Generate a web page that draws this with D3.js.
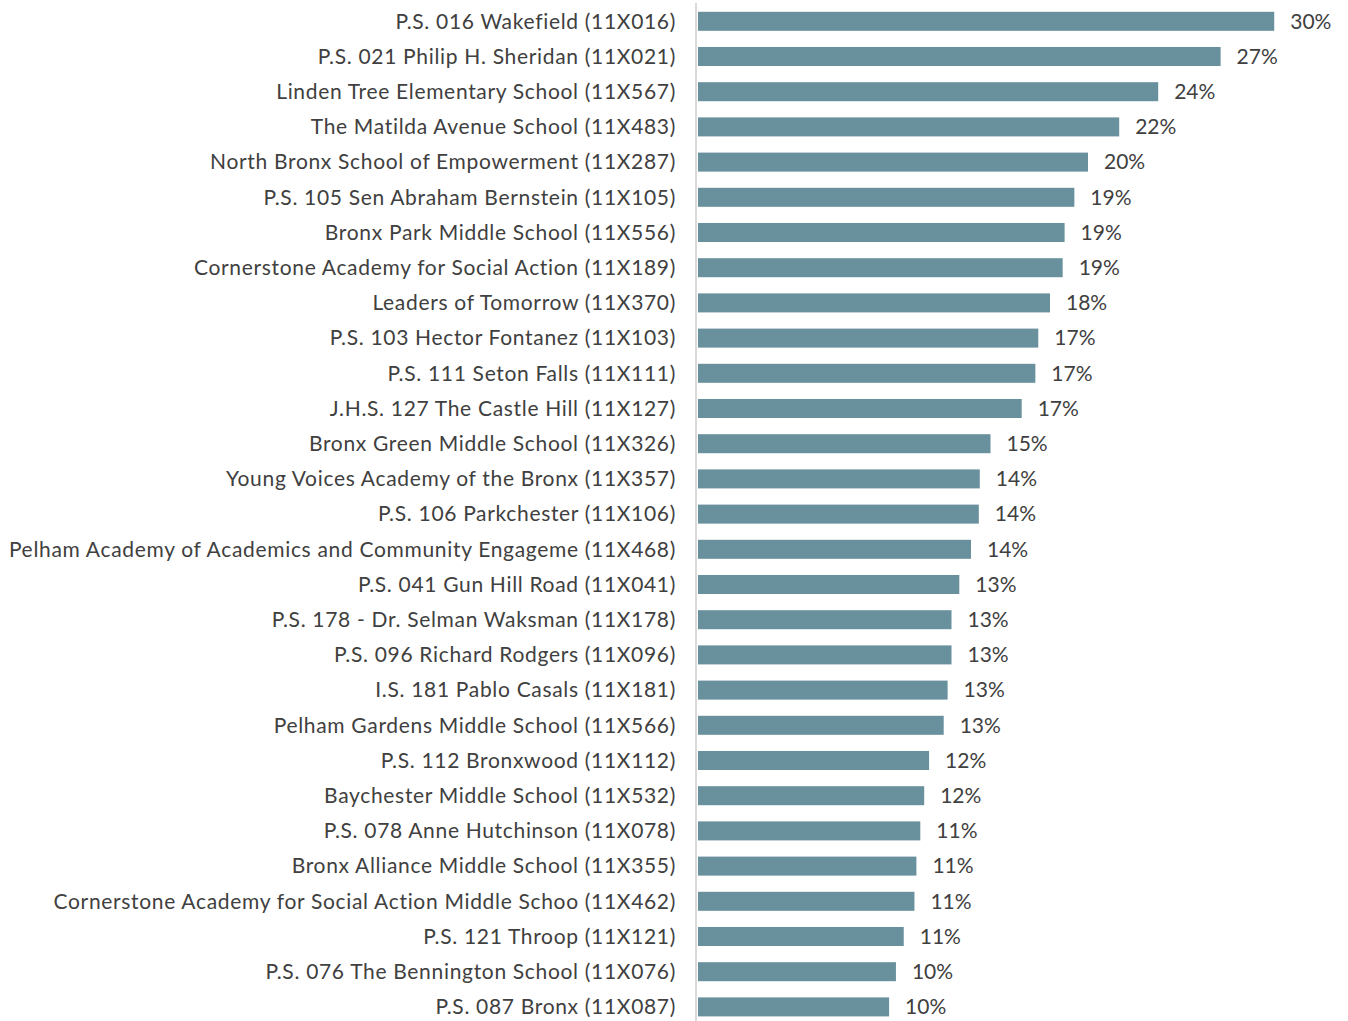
<!DOCTYPE html>
<html>
<head>
<meta charset="utf-8">
<script src="https://cdn.jsdelivr.net/npm/d3@7"></script>
<style>
  html, body { margin: 0; padding: 0; background: #ffffff; }
  svg { display: block; }
  text { font-family: Lato, "Open Sans", sans-serif; fill: #404040; }
</style>
</head>
<body>
<svg id="chart" width="1348" height="1021"></svg>
<script>
const schools = [
  "P.S. 016 Wakefield (11X016)",
  "P.S. 021 Philip H. Sheridan (11X021)",
  "Linden Tree Elementary School (11X567)",
  "The Matilda Avenue School (11X483)",
  "North Bronx School of Empowerment (11X287)",
  "P.S. 105 Sen Abraham Bernstein (11X105)",
  "Bronx Park Middle School (11X556)",
  "Cornerstone Academy for Social Action (11X189)",
  "Leaders of Tomorrow (11X370)",
  "P.S. 103 Hector Fontanez (11X103)",
  "P.S. 111 Seton Falls (11X111)",
  "J.H.S. 127 The Castle Hill (11X127)",
  "Bronx Green Middle School (11X326)",
  "Young Voices Academy of the Bronx (11X357)",
  "P.S. 106 Parkchester (11X106)",
  "Pelham Academy of Academics and Community Engageme (11X468)",
  "P.S. 041 Gun Hill Road (11X041)",
  "P.S. 178 - Dr. Selman Waksman (11X178)",
  "P.S. 096 Richard Rodgers (11X096)",
  "I.S. 181 Pablo Casals (11X181)",
  "Pelham Gardens Middle School (11X566)",
  "P.S. 112 Bronxwood (11X112)",
  "Baychester Middle School (11X532)",
  "P.S. 078 Anne Hutchinson (11X078)",
  "Bronx Alliance Middle School (11X355)",
  "Cornerstone Academy for Social Action Middle Schoo (11X462)",
  "P.S. 121 Throop (11X121)",
  "P.S. 076 The Bennington School (11X076)",
  "P.S. 087 Bronx (11X087)"
];
const shares = [
  0.2955, 0.268, 0.236, 0.216, 0.200, 0.193, 0.188, 0.187, 0.1805, 0.1745,
  0.173, 0.166, 0.150, 0.1445, 0.144, 0.140, 0.134, 0.130, 0.130, 0.128,
  0.126, 0.1185, 0.116, 0.114, 0.112, 0.111, 0.1055, 0.1015, 0.098
];

const svg = d3.select("#chart");
const x0 = 698;
const x = d3.scaleLinear().domain([0, 0.30]).range([x0, x0 + 585]);
const y = d3.scaleBand().domain(schools).range([3.7, 1024.5]).paddingInner(0.46).paddingOuter(0.23);
const fmt = d3.format(".0%");
const data = schools.map((s, i) => ({ name: s, v: shares[i] }));

// axis line
svg.append("line")
  .attr("x1", x0 - 2).attr("x2", x0 - 2)
  .attr("y1", 3).attr("y2", 1021)
  .attr("stroke", "#d9d9d9").attr("stroke-width", 2);

svg.append("g").selectAll("rect").data(data).join("rect")
  .attr("x", x(0))
  .attr("y", d => y(d.name))
  .attr("width", d => x(d.v) - x(0))
  .attr("height", y.bandwidth())
  .attr("fill", "#68909d");

svg.append("g").selectAll("text").data(data).join("text")
  .attr("x", 676)
  .attr("y", d => y(d.name) + y.bandwidth() / 2)
  .attr("dy", "0.35em")
  .attr("text-anchor", "end")
  .style("font-size", "21px")
  .style("letter-spacing", "0.68px")
  .text(d => d.name);

svg.append("g").selectAll("text").data(data).join("text")
  .attr("x", d => x(d.v) + 16)
  .attr("y", d => y(d.name) + y.bandwidth() / 2)
  .attr("dy", "0.35em")
  .attr("text-anchor", "start")
  .style("font-size", "21px")
  .text(d => fmt(d.v));
</script>
</body>
</html>
